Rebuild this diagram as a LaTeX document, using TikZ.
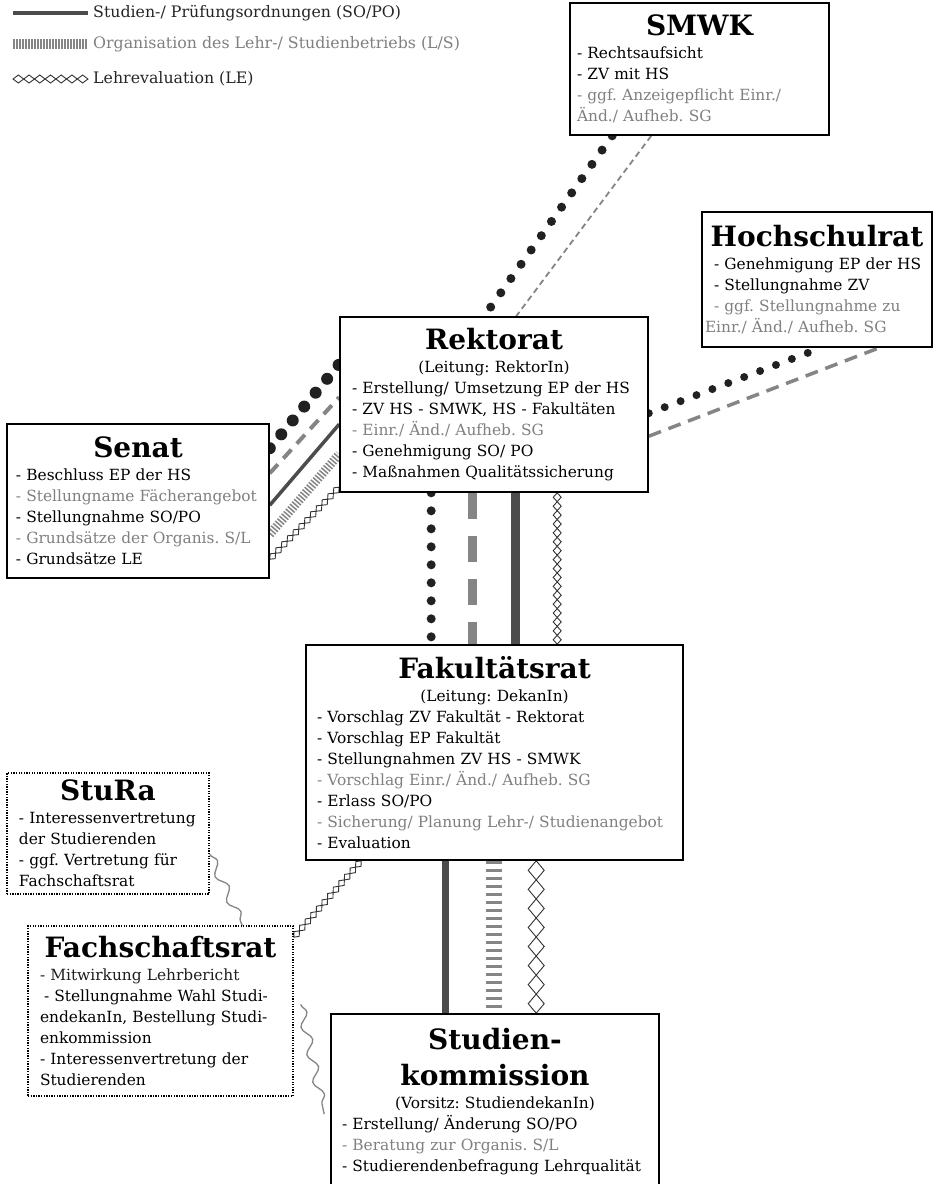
\documentclass[tikz,border=0pt]{standalone}
\usepackage{fontspec}
\setmainfont{DejaVu Serif}
\usetikzlibrary{decorations.pathmorphing,decorations.markings}
\setlength{\parindent}{0pt}
\frenchspacing

\definecolor{sopogray}{gray}{0.30}
\definecolor{lsgray}{gray}{0.52}
\definecolor{txtgray}{gray}{0.50}
\definecolor{dotblack}{gray}{0.13}

\newcommand{\gr}[1]{\textcolor{txtgray}{#1}}
\newcommand{\boxtitle}[2][32]{{\fontsize{28}{#1}\selectfont\bfseries\makebox[\linewidth]{#2}\par}\vspace{2pt}}
\newcommand{\boxsub}[1]{\makebox[\linewidth]{#1}\par}

\pgfdeclarelayer{back}
\pgfsetlayers{back,main}

\tikzset{
  orgbox/.style={draw, line width=1.6pt, fill=white, align=left, inner ysep=0pt,
    font=\fontsize{15.4}{21}\selectfont},
  stubox/.style={orgbox, line width=1.3pt, dash pattern=on 1.3pt off 1.3pt},
  sopo/.style={draw=sopogray, line width=#1},
  lsticks/.style n args={3}{draw=lsgray, line width=#1, dash pattern=on #2 off #3},
  bigdots/.style 2 args={draw=dotblack, line width=#1, line cap=round, dash pattern=on 0pt off #2},
  grdash/.style n args={3}{draw=lsgray, line width=#1, dash pattern=on #2 off #3},
  % chain of #1 diamonds, half width #2
  leline/.style 2 args={decoration={markings,
      mark=between positions 0.5/#1 and 1 step 1/#1 with {
        \pgfmathsetmacro{\halfdia}{\pgfdecoratedpathlength/#1/2}
        \draw[black!80, line width=0.9pt, line join=miter]
          (-\halfdia pt,0) -- (0,#2) -- (\halfdia pt,0) -- (0,-#2) -- cycle;}},
    postaction={decorate}},
  waveline/.style={draw=lsgray, line width=1.3pt, decorate,
    decoration={snake, segment length=28pt, amplitude=4.5pt}},
  legtext/.style={anchor=west, inner sep=0pt, font=\fontsize{15.8}{18}\selectfont}
}

\begin{document}
\begin{tikzpicture}[x=1pt, y=-1pt]
\useasboundingbox (0,0) rectangle (936,1184);

% legend
\node[legtext, text=black!85] (legsopo) at (93,13) {Studien-/ Prüfungsordnungen (SO/PO)};
\node[legtext, text=txtgray] (legls) at (93,44) {Organisation des Lehr-/ Studienbetriebs (L/S)};
\node[legtext, text=black!85] (legle) at (93,79) {Lehrevaluation (LE)};

% boxes
\node[orgbox, inner xsep=7pt, minimum width=259pt, minimum height=132pt, text width=245pt] (smwk) at (699.5,69)
  {\boxtitle{SMWK}
   - Rechtsaufsicht\\
   - ZV mit HS\\
   \gr{- ggf. Anzeigepflicht Einr./}\\
   \gr{Änd./ Aufheb. SG}};
\node[orgbox, inner xsep=3pt, minimum width=230pt, minimum height=135pt, text width=224pt] (hsr) at (817,279.5)
  {\boxtitle{Hochschulrat}
   \hspace*{9pt}- Genehmigung EP der HS\\
   \hspace*{9pt}- Stellungnahme ZV\\
   \gr{\hspace*{9pt}- ggf. Stellungnahme zu}\\
   \gr{Einr./ Änd./ Aufheb. SG}};
\node[orgbox, inner xsep=12pt, minimum width=308pt, minimum height=175pt, text width=284pt] (rek) at (494,404.5)
  {\boxtitle{Rektorat}
   \boxsub{(Leitung: RektorIn)}
   - Erstellung/ Umsetzung EP der HS\\
   - ZV HS - SMWK, HS - Fakultäten\\
   \gr{- Einr./ Änd./ Aufheb. SG}\\
   - Genehmigung SO/ PO\\
   - Maßnahmen Qualitätssicherung};
\node[orgbox, inner xsep=9pt, minimum width=262pt, minimum height=154pt, text width=244pt] (senat) at (138,501)
  {\boxtitle{Senat}
   - Beschluss EP der HS\\
   \gr{- Stellungname Fächerangebot}\\
   - Stellungnahme SO/PO\\
   \gr{- Grundsätze der Organis. S/L}\\
   - Grundsätze LE};
\node[orgbox, inner xsep=11pt, minimum width=377pt, minimum height=215pt, text width=355pt] (fak) at (494.5,752.5)
  {\boxtitle{Fakultätsrat}
   \boxsub{(Leitung: DekanIn)}
   - Vorschlag ZV Fakultät - Rektorat\\
   - Vorschlag EP Fakultät\\
   - Stellungnahmen ZV HS - SMWK\\
   \gr{- Vorschlag Einr./ Änd./ Aufheb. SG}\\
   - Erlass SO/PO\\
   \gr{- Sicherung/ Planung Lehr-/ Studienangebot}\\
   - Evaluation};
\node[stubox, inner xsep=12pt, minimum width=202pt, minimum height=121pt, text width=178pt] (stura) at (108,833.5)
  {\boxtitle{StuRa}
   - Interessenvertretung\\
   der Studierenden\\
   - ggf. Vertretung für\\
   Fachschaftsrat};
\node[stubox, inner xsep=12pt, minimum width=265pt, minimum height=170pt, text width=241pt] (fsr) at (160.5,1011)
  {\boxtitle{Fachschaftsrat}
   \textcolor{black!88}{- Mitwirkung Lehrbericht}\\
   \hspace*{4pt}- Stellungnahme Wahl Studi-\\
   endekanIn, Bestellung Studi-\\
   enkommission\\
   - Interessenvertretung der\\
   Studierenden};
\node[orgbox, inner xsep=11pt, minimum width=328pt, minimum height=176pt, text width=306pt] (stk) at (495,1102)
  {\boxtitle{Studien-}
   \boxtitle[34]{kommission}
   \boxsub{(Vorsitz: StudiendekanIn)}
   - Erstellung/ Änderung SO/PO\\
   \gr{- Beratung zur Organis. S/L}\\
   - Studierendenbefragung Lehrqualität};

\begin{pgfonlayer}{back}
\fill[white] (0,0) rectangle (936,1184);
% legend samples
\draw[sopo=4pt] ([xshift=-80pt]legsopo.west) -- ([xshift=-5pt]legsopo.west);
\draw[lsticks={10pt}{1.5pt}{1.5pt}] ([xshift=-80pt]legls.west) -- ([xshift=-5pt]legls.west);
\path[leline={7}{4pt}] ([xshift=-80pt]legle.west) -- ([xshift=-5pt]legle.west);
% SMWK -- Rektorat
\draw[bigdots={9pt}{17.5pt}] ([xshift=43pt]smwk.south west) -- ([xshift=145pt]rek.north west);
\draw[grdash={1.8pt}{6pt}{4pt}] ([xshift=82pt]smwk.south west) -- ([xshift=177pt]rek.north west);
% Hochschulrat -- Rektorat
\draw[bigdots={8pt}{17pt}] ([yshift=-97pt]rek.north east) -- ([xshift=120pt]hsr.south west);
\draw[grdash={3.5pt}{13pt}{8pt}] ([yshift=-120pt]rek.north east) -- ([xshift=178pt]hsr.south west);
% Senat -- Rektorat
\draw[bigdots={12pt}{18pt}] ([yshift=-25pt]senat.north east) -- ([yshift=-48pt]rek.north west);
\draw[grdash={4pt}{12pt}{8pt}] ([yshift=-50pt]senat.north east) -- ([yshift=-81pt]rek.north west);
\draw[sopo=3.5pt] ([yshift=-82pt]senat.north east) -- ([yshift=-108pt]rek.north west);
\draw[lsticks={9pt}{1.5pt}{1.7pt}] ([yshift=-111pt]senat.north east) -- ([yshift=-138pt]rek.north west);
\path[leline={12}{3.5pt}] ([yshift=-136pt]senat.north east) -- ([yshift=-171pt]rek.north west);
% Rektorat -- Fakultaetsrat
\draw[bigdots={9pt}{18pt}] ([xshift=92pt]rek.south west) -- ([xshift=126pt]fak.north west);
\draw[grdash={9pt}{26pt}{17pt}] ([xshift=133pt]rek.south west) -- ([xshift=167pt]fak.north west);
\draw[sopo=9pt] ([xshift=176pt]rek.south west) -- ([xshift=210pt]fak.north west);
\path[leline={17}{4pt}] ([xshift=218pt]rek.south west) -- ([xshift=252pt]fak.north west);
% Fakultaetsrat -- Studienkommission
\draw[sopo=7pt] ([xshift=140pt]fak.south west) -- ([xshift=115pt]stk.north west);
\draw[lsticks={16pt}{3.5pt}{4.5pt}] ([xshift=189pt]fak.south west) -- ([xshift=164pt]stk.north west);
\path[leline={8}{8pt}] ([xshift=231pt]fak.south west) -- ([xshift=206pt]stk.north west);
% Fakultaetsrat -- Fachschaftsrat
\path[leline={12}{3.5pt}] ([xshift=56pt]fak.south west) -- ([yshift=-12pt]fsr.north east);
% StuRa, Fachschaftsrat, Studienkommission
\draw[waveline] ([yshift=-82pt]stura.north east) -- ([xshift=215pt]fsr.north west);
\draw[waveline] ([xshift=7pt, yshift=-79pt]fsr.north east) -- ([xshift=-6pt, yshift=-101pt]stk.north west);
\end{pgfonlayer}
\end{tikzpicture}
\end{document}
